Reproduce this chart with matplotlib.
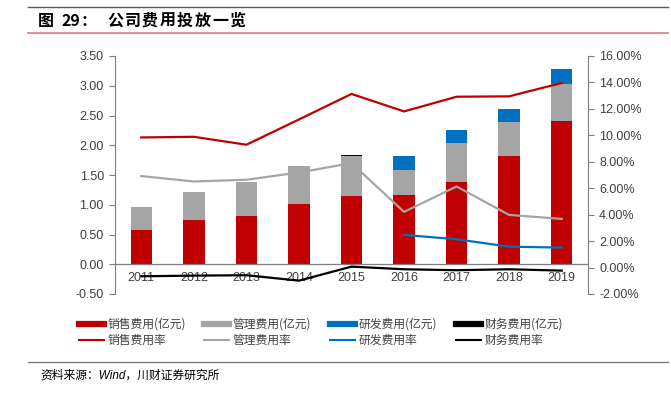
import numpy as np
import matplotlib
matplotlib.use("Agg")
import matplotlib.pyplot as plt
from matplotlib.lines import Line2D
from matplotlib.ticker import FuncFormatter

plt.rcParams['font.family'] = ['Liberation Sans', 'Noto Sans CJK SC', 'DejaVu Sans']

# data
years = ['2011', '2012', '2013', '2014', '2015', '2016', '2017', '2018', '2019']
sales = [0.57, 0.74, 0.81, 1.01, 1.14, 1.165, 1.38, 1.825, 2.41]
admin = [0.39, 0.47, 0.57, 0.64, 0.68, 0.415, 0.65, 0.56, 0.625]
rnd = [0, 0, 0, 0, 0, 0.245, 0.225, 0.22, 0.25]
finance = [0, 0, 0, 0, 0.02, 0, 0, 0, 0]

sales_rate = [9.84, 9.89, 9.29, 11.2, 13.13, 11.81, 12.92, 12.95, 13.96]
admin_rate = [6.92, 6.51, 6.64, 7.19, 7.90, 4.21, 6.13, 3.98, 3.68]
rnd_years = ['2016', '2017', '2018', '2019']
rnd_rate = [2.47, 2.14, 1.58, 1.51]
fin_rate = [-0.66, -0.61, -0.58, -0.99, 0.07, -0.13, -0.20, -0.13, -0.23]

c_red = '#C00000'
c_gray = '#A5A5A5'
c_blue = '#0070C0'
c_black = '#000000'
tick_c = '#404040'

fig = plt.figure(figsize=(6.71, 3.97), dpi=100)
ax = fig.add_axes([115 / 671, 1 - 294 / 397, 473 / 671, 238 / 397])

x = np.arange(len(years))
w = 0.41
sales = np.array(sales)
admin = np.array(admin)
rnd = np.array(rnd)
finance = np.array(finance)
ax.bar(x, sales, w, color=c_red)
ax.bar(x, admin, w, bottom=sales, color=c_gray)
ax.bar(x, rnd, w, bottom=sales + admin, color=c_blue)
ax.bar(x, finance, w, bottom=sales + admin + rnd, color=c_black)

ax.set_xlim(-0.5, len(years) - 0.5)
ax.set_ylim(-0.5, 3.5)
ax.set_yticks(np.arange(-0.5, 3.51, 0.5))
ax.yaxis.set_major_formatter(FuncFormatter(lambda v, p: '%.2f' % v))
ax.axhline(0, color='#7F7F7F', lw=0.9, zorder=1)
ax.set_xticks(x)
ax.set_xticklabels(years)
ax.tick_params(axis='x', length=0, pad=-16, labelsize=9, labelcolor=tick_c)
ax.tick_params(axis='y', length=4, color='#7F7F7F', labelsize=9, labelcolor=tick_c, pad=4)
for s in ['top', 'bottom', 'right']:
    ax.spines[s].set_visible(False)
ax.spines['left'].set_color('#7F7F7F')

ax2 = ax.twinx()
ax2.set_ylim(-2, 16)
ax2.set_yticks(np.arange(-2, 16.1, 2))
ax2.yaxis.set_major_formatter(FuncFormatter(lambda v, p: '%.2f%%' % v))
ax2.tick_params(axis='y', length=4, color='#7F7F7F', labelsize=9, labelcolor=tick_c, pad=4)
for s in ['top', 'bottom', 'left']:
    ax2.spines[s].set_visible(False)
ax2.spines['right'].set_color('#7F7F7F')

ax2.plot(x, sales_rate, color=c_red, lw=1.6)
ax2.plot(x, admin_rate, color=c_gray, lw=1.6)
rx = [years.index(y) for y in rnd_years]
ax2.plot(rx, rnd_rate, color=c_blue, lw=1.6)
ax2.plot(x, fin_rate, color=c_black, lw=1.6)

# legend: bars on the first row, rate lines on the second
cjk = ['Noto Sans CJK SC', 'DejaVu Sans']
handles = [
    Line2D([], [], color=c_red, lw=4.5), Line2D([], [], color=c_red, lw=1.5),
    Line2D([], [], color=c_gray, lw=4.5), Line2D([], [], color=c_gray, lw=1.5),
    Line2D([], [], color=c_blue, lw=4.5), Line2D([], [], color=c_blue, lw=1.5),
    Line2D([], [], color=c_black, lw=4.5), Line2D([], [], color=c_black, lw=1.5),
]
labels = ['销售费用(亿元)', '销售费用率', '管理费用(亿元)', '管理费用率',
          '研发费用(亿元)', '研发费用率', '财务费用(亿元)', '财务费用率']
leg = fig.legend(handles, labels, ncol=4, loc='center', bbox_to_anchor=(0.478, 0.1625),
                 frameon=False, handlelength=2.1, handletextpad=0.3, columnspacing=1.6,
                 labelspacing=0.25, prop={'family': cjk, 'size': 8.5})
for t in leg.get_texts():
    t.set_color('#404040')

# title block and source note
fig.add_artist(Line2D([28 / 671, 668 / 671], [1 - 7 / 397] * 2, color='#595959', lw=1.0))
fig.add_artist(Line2D([28 / 671, 668 / 671], [1 - 33 / 397] * 2, color='#E58F8F', lw=1.4))
fig.add_artist(Line2D([28 / 671, 668 / 671], [1 - 362 / 397] * 2, color='#7F7F7F', lw=1.0))
# the title characters are spread out a little in the reference
title_parts = [('图', 38), ('29', 62), ('：', 81)]
title_parts += [(ch, 107 + i * 17.5) for i, ch in enumerate('公司费用投放一览')]
for txt, px in title_parts:
    fig.text(px / 671, 1 - 21 / 397, txt, family=cjk, fontsize=11.5,
             fontweight='bold', va='center', ha='left', color='#000000')
fig.text(40 / 671, 1 - 376 / 397, '资料来源：Wind，川财证券研究所', fontsize=8.5,
         style='italic', va='center', ha='left', color='#000000',
         family=['Liberation Sans', 'Noto Sans CJK SC'])

fig.savefig('out.png', dpi=100)
